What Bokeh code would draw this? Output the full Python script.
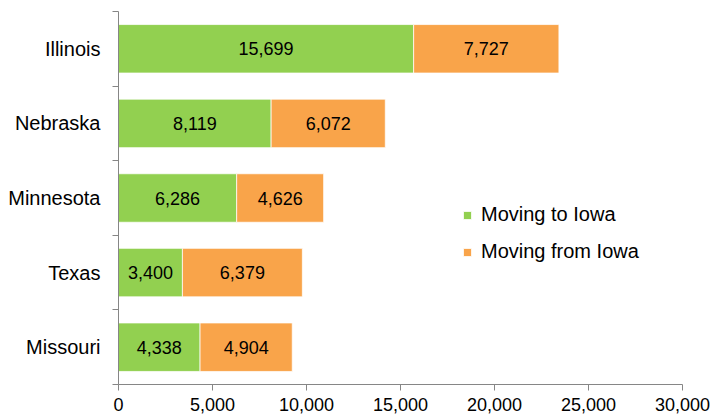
from bokeh.plotting import figure
from bokeh.models import (ColumnDataSource, LabelSet, FixedTicker, NumeralTickFormatter,
                          Legend, LegendItem, Range1d)
from bokeh.core.properties import value
from bokeh.embed import file_html
from bokeh.resources import INLINE

states = ["Illinois", "Nebraska", "Minnesota", "Texas", "Missouri"]
moving_to = [15699, 8119, 6286, 3400, 4338]
moving_from = [7727, 6072, 4626, 6379, 4904]
x_ticks = [0, 5000, 10000, 15000, 20000, 25000, 30000]

GREEN = "#92D050"
ORANGE = "#F9A44A"
AXIS = "#868686"
FONT = "Liberation Sans"

n = len(states)
ypos = [n - i - 0.5 for i in range(n)]
from_end = [a + b for a, b in zip(moving_to, moving_from)]

src = ColumnDataSource(dict(
    y=ypos,
    to_left=[0] * n, to_right=moving_to,
    from_left=moving_to, from_right=from_end,
    to_mid=[v / 2 for v in moving_to],
    from_mid=[a + b / 2 for a, b in zip(moving_to, moving_from)],
    to_lbl=[f"{v:,}" for v in moving_to],
    from_lbl=[f"{v:,}" for v in moving_from],
))

p = figure(width=714, height=419, output_backend="svg", toolbar_location=None, title=None,
           x_range=Range1d(0, 30000), y_range=Range1d(0, n),
           min_border_left=118, min_border_right=32, min_border_top=11, min_border_bottom=35)
p.outline_line_color = None
p.xgrid.grid_line_color = None
p.ygrid.grid_line_color = None

r_to = p.hbar(y="y", left="to_left", right="to_right", height=0.65, source=src,
              fill_color=GREEN, line_color="white", line_width=0.75)
r_from = p.hbar(y="y", left="from_left", right="from_right", height=0.65, source=src,
                fill_color=ORANGE, line_color="white", line_width=0.75)

for xcol, tcol in (("to_mid", "to_lbl"), ("from_mid", "from_lbl")):
    p.add_layout(LabelSet(x=xcol, y="y", text=tcol, source=src, text_align="center",
                          text_baseline="middle", text_font=value(FONT),
                          text_font_size=value("18px"), text_color="#000000"))

# x axis
xa = p.xaxis[0]
xa.ticker = FixedTicker(ticks=x_ticks, minor_ticks=[])
xa.formatter = NumeralTickFormatter(format="0,0")
xa.axis_line_color = AXIS
xa.major_tick_line_color = AXIS
xa.major_tick_out = 6
xa.major_tick_in = 0
xa.minor_tick_line_color = None
xa.major_label_text_font = FONT
xa.major_label_text_font_size = "18px"
xa.major_label_text_color = "#000000"
xa.major_label_standoff = 7

# y axis
ya = p.yaxis[0]
ya.ticker = FixedTicker(ticks=ypos, minor_ticks=[float(i) for i in range(n + 1)])
ya.major_label_overrides = {y: s for y, s in zip(ypos, states)}
ya.axis_line_color = AXIS
ya.major_tick_line_color = None
ya.minor_tick_line_color = AXIS
ya.minor_tick_out = 6
ya.minor_tick_in = 0
ya.major_label_text_font = FONT
ya.major_label_text_font_size = "20px"
ya.major_label_text_color = "#000000"
ya.major_label_standoff = 12

legend = Legend(items=[LegendItem(label="Moving to Iowa", renderers=[r_to]),
                       LegendItem(label="Moving from Iowa", renderers=[r_from])],
                location=(344, 121), border_line_color=None, background_fill_alpha=0,
                glyph_width=10, glyph_height=10, label_standoff=9, spacing=14,
                padding=0, margin=0, label_text_font=FONT, label_text_font_size="20px",
                label_text_color="#000000", label_height=22)
p.add_layout(legend)

open("out.html", "w").write(file_html(p, INLINE))
